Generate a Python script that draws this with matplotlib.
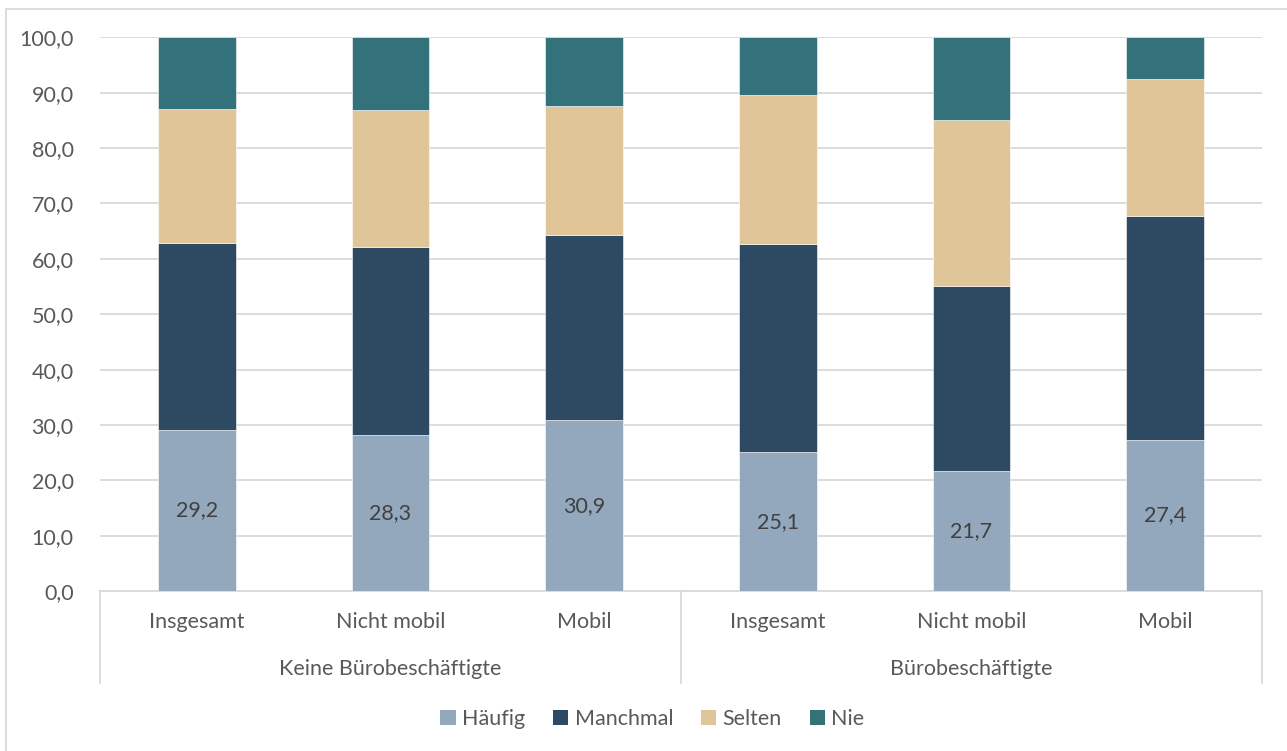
import numpy as np
import matplotlib
matplotlib.use("Agg")
import matplotlib.pyplot as plt
from matplotlib.ticker import FuncFormatter
from matplotlib.patches import Patch
from matplotlib.lines import Line2D

plt.rcParams['font.family'] = ['Lato', 'DejaVu Sans']

# data
groups = ["Keine Bürobeschäftigte", "Bürobeschäftigte"]
subcats = ["Insgesamt", "Nicht mobil", "Mobil", "Insgesamt", "Nicht mobil", "Mobil"]
series = ["Häufig", "Manchmal", "Selten", "Nie"]
haeufig = [29.2, 28.3, 30.9, 25.1, 21.7, 27.4]
manchmal = [33.7, 33.9, 33.4, 37.5, 33.4, 40.4]
selten = [24.2, 24.6, 23.3, 26.9, 29.9, 24.7]
nie = [12.9, 13.2, 12.4, 10.5, 15.0, 7.5]
colors = ["#93a8bc", "#2e4a63", "#e0c598", "#33727b"]

text_col = "#595959"
grid_col = "#d9d9d9"
fs = 15.5

fig = plt.figure(figsize=(12.87, 7.51), dpi=100)
ax = fig.add_axes([100 / 1287, 1 - 591.3 / 751, 1162 / 1287, 554 / 751])

x = np.arange(len(subcats))
bottom = np.zeros(len(subcats))
for vals, col in zip([haeufig, manchmal, selten, nie], colors):
    ax.bar(x, vals, width=0.4, bottom=bottom, color=col, edgecolor="white",
           linewidth=0.4, zorder=3)
    bottom += np.array(vals)

for xi, v in zip(x, haeufig):
    ax.text(xi, v / 2, f"{v:.1f}".replace(".", ","), ha="center", va="center",
            fontsize=fs, color="#404040", zorder=4)

ax.set_xlim(-0.5, len(subcats) - 0.5)
ax.set_ylim(0, 100)
ax.set_yticks(np.arange(0, 101, 10))
ax.yaxis.set_major_formatter(FuncFormatter(lambda v, p: f"{v:.1f}".replace(".", ",")))
ax.tick_params(axis="y", length=0, pad=19, labelsize=fs, labelcolor=text_col)
ax.set_xticks([])
ax.grid(axis="y", color=grid_col, linewidth=1.3, zorder=0)
for s in ["top", "right", "left"]:
    ax.spines[s].set_visible(False)
ax.spines["bottom"].set_color(grid_col)
ax.spines["bottom"].set_linewidth(1.3)

# category axis: sub labels, group labels, separators
depth = (683 - 591.3) / 554
for xv in [0, 0.5, 1]:
    ax.add_line(Line2D([xv, xv], [0, -depth], transform=ax.transAxes, color=grid_col,
                       linewidth=1.3, clip_on=False))
for xi, lab in zip(x, subcats):
    ax.text(xi, -(622 - 591.3) / 5.54, lab, ha="center", va="center",
            fontsize=fs, color=text_col, clip_on=False)
for gi, g in enumerate(groups):
    ax.text(gi * 3 + 1, -(669 - 591.3) / 5.54, g, ha="center", va="center",
            fontsize=fs, color=text_col, clip_on=False)

# legend
handles = [Patch(facecolor=c, edgecolor="none") for c in colors]
fig.legend(handles, series, loc="center", bbox_to_anchor=(0.507, 1 - 719 / 751),
           ncol=4, frameon=False, fontsize=fs, labelcolor=text_col,
           handlelength=0.7, handleheight=0.7, handletextpad=0.3, columnspacing=1.3)

# outer chart frame
fig.add_artist(Line2D([6 / 1287, 6 / 1287], [0, 1 - 9 / 751], transform=fig.transFigure,
                      color=grid_col, linewidth=1.3))
fig.add_artist(Line2D([6 / 1287, 1], [1 - 9 / 751, 1 - 9 / 751], transform=fig.transFigure,
                      color=grid_col, linewidth=1.3))

fig.savefig("out.png", dpi=100)
